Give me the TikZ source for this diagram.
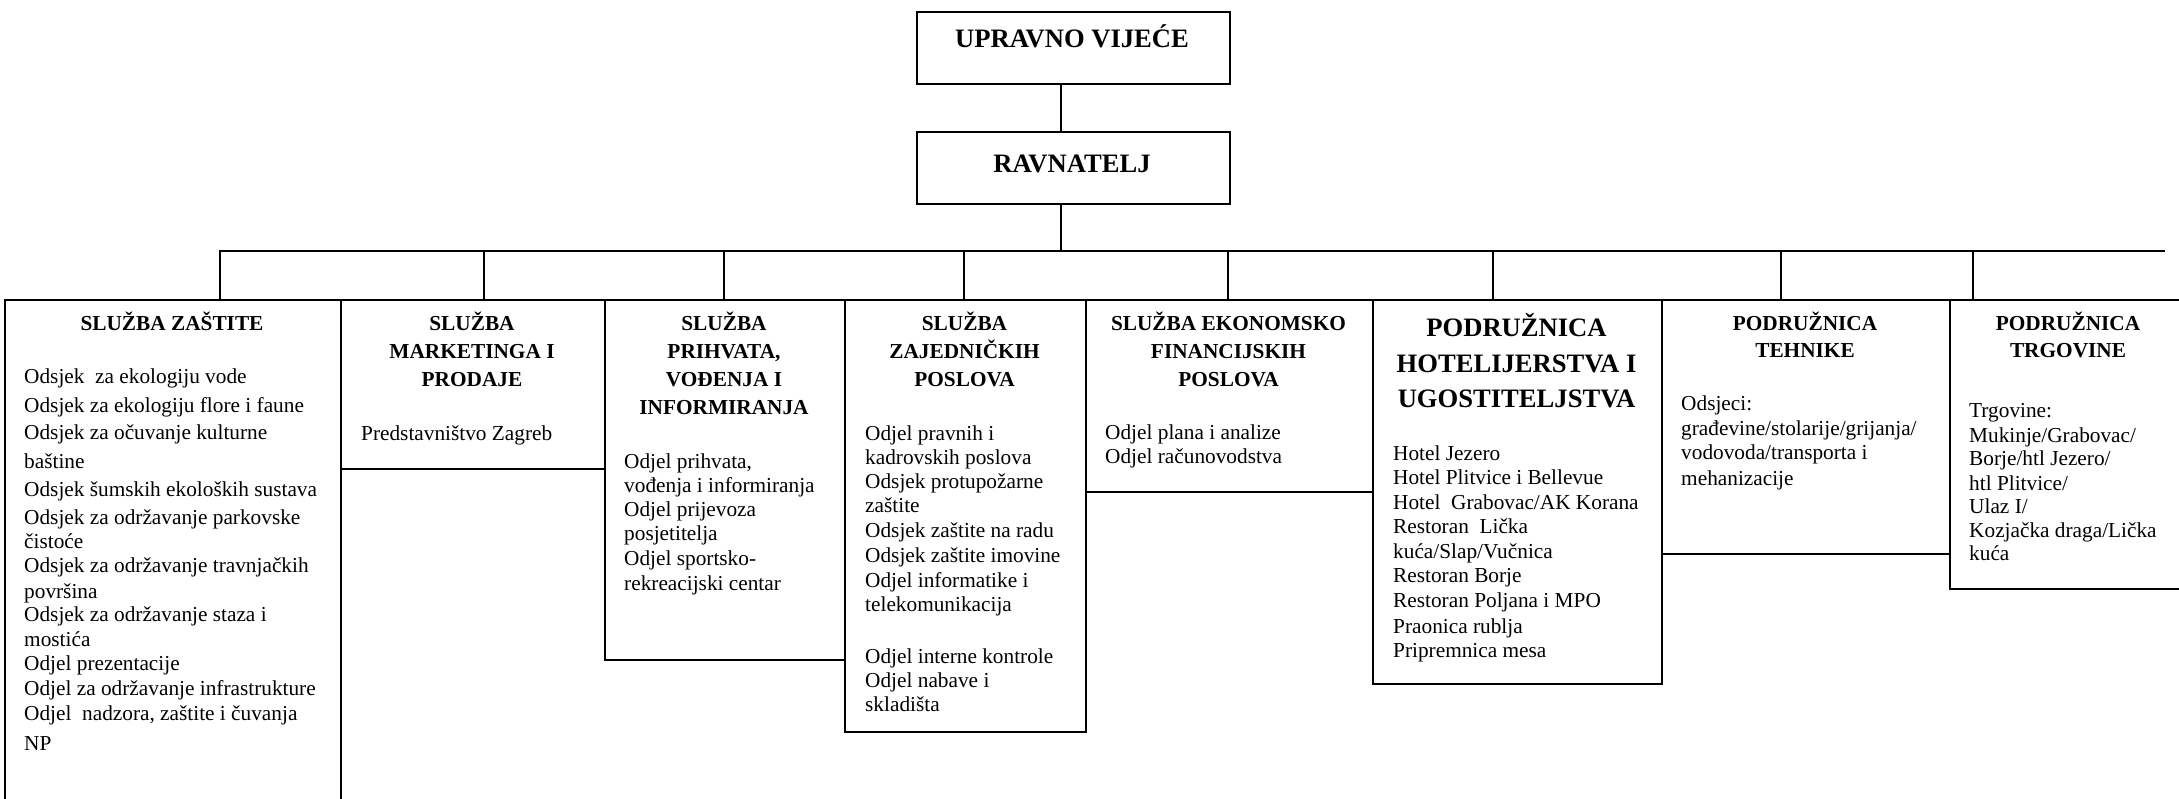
\documentclass[tikz,border=0pt]{standalone}
\usepackage{fontspec}
\setmainfont{Liberation Serif}
\begin{document}
\begin{tikzpicture}[x=1pt,y=-1pt,
  box/.style={draw, line width=1.8pt, inner sep=0pt, anchor=north west},
  conn/.style={line width=1.8pt},
  bodytext/.style={inner sep=0pt, anchor=base west, font=\fontsize{21.3pt}{24.5pt}\selectfont},
  headtext/.style={inner sep=0pt, anchor=base, font=\fontsize{21.3pt}{24.5pt}\selectfont\bfseries},
  bigtext/.style={inner sep=0pt, anchor=base, font=\fontsize{26.6pt}{30pt}\selectfont\bfseries}]
\useasboundingbox[fill=white] (0,0) rectangle (2179,798);

% top boxes
\node[box, minimum width=313pt, minimum height=72pt] (uv) at (916,11) {};
\node[box, minimum width=313pt, minimum height=72pt] (rv) at (916,131) {};
\node[bigtext] (uvt) at (1072,47) {UPRAVNO VIJEĆE};
\node[bigtext] (rvt) at (1072,172) {RAVNATELJ};

% column boxes
\node[box, minimum width=336pt, minimum height=560pt] (b1) at (4,299) {};
\node[box, minimum width=264pt, minimum height=169pt] (b2) at (340,299) {};
\node[box, minimum width=240pt, minimum height=360pt] (b3) at (604,299) {};
\node[box, minimum width=241pt, minimum height=432pt] (b4) at (844,299) {};
\node[box, minimum width=287pt, minimum height=192pt] (b5) at (1085,299) {};
\node[box, minimum width=289pt, minimum height=384pt] (b6) at (1372,299) {};
\node[box, minimum width=288pt, minimum height=254pt] (b7) at (1661,299) {};
\node[box, minimum width=280pt, minimum height=289pt] (b8) at (1949,299) {};

% connectors
\coordinate (stem) at (1061,251);
\coordinate (busL) at (220,251);
\coordinate (busR) at (2165,251);
\coordinate (d2) at (484,251);
\coordinate (d3) at (724,251);
\coordinate (d4) at (964,251);
\coordinate (d5) at (1228,251);
\coordinate (d6) at (1493,251);
\coordinate (d7) at (1781,251);
\coordinate (d8) at (1973,251);
\draw[conn] (stem |- uv.south) -- (stem |- rv.north);
\draw[conn] (stem |- rv.south) -- (stem);
\draw[conn] (busL |- b1.north) -- (busL) -- (busR);
\draw[conn] (d2) -- (d2 |- b2.north);
\draw[conn] (d3) -- (d3 |- b3.north);
\draw[conn] (d4) -- (d4 |- b4.north);
\draw[conn] (d5) -- (d5 |- b5.north);
\draw[conn] (d6) -- (d6 |- b6.north);
\draw[conn] (d7) -- (d7 |- b7.north);
\draw[conn] (d8) -- (d8 |- b8.north);

% headings
\node[headtext] (h1a) at (172,330) {SLUŽBA ZAŠTITE};
\foreach \yy/\txt [count=\i] in {330/SLUŽBA, 358/MARKETINGA I, 386/PRODAJE}
  \node[headtext, name=h2\i] at (472,\yy) {\txt};
\foreach \yy/\txt [count=\i] in {330/SLUŽBA, 358/{PRIHVATA,}, 386/VOĐENJA I, 414/INFORMIRANJA}
  \node[headtext, name=h3\i] at (724,\yy) {\txt};
\foreach \yy/\txt [count=\i] in {330/SLUŽBA, 358/ZAJEDNIČKIH, 386/POSLOVA}
  \node[headtext, name=h4\i] at (964.5,\yy) {\txt};
\foreach \yy/\txt [count=\i] in {330/SLUŽBA EKONOMSKO, 358/FINANCIJSKIH, 386/POSLOVA}
  \node[headtext, name=h5\i] at (1228.5,\yy) {\txt};
\foreach \yy/\txt [count=\i] in {336/PODRUŽNICA, 372/HOTELIJERSTVA I, 407/UGOSTITELJSTVA}
  \node[bigtext, name=h6\i] at (1516.5,\yy) {\txt};
\foreach \yy/\txt [count=\i] in {330/PODRUŽNICA, 357/TEHNIKE}
  \node[headtext, name=h7\i] at (1805,\yy) {\txt};
\foreach \yy/\txt [count=\i] in {330/PODRUŽNICA, 357/TRGOVINE}
  \node[headtext, name=h8\i] at (2068,\yy) {\txt};

% body texts
\foreach \yy/\txt [count=\i] in {
  383/{Odsjek\ \ za ekologiju vode},
  412/{Odsjek za ekologiju flore i faune},
  439/{Odsjek za očuvanje kulturne},
  468/{baštine},
  496/{Odsjek šumskih ekoloških sustava},
  524/{Odsjek za održavanje parkovske},
  548/{čistoće},
  572/{Odsjek za održavanje travnjačkih},
  598/{površina},
  621/{Odsjek za održavanje staza i},
  646/{mostića},
  670/{Odjel prezentacije},
  695/{Odjel za održavanje infrastrukture},
  720/{Odjel\ \ nadzora, zaštite i čuvanja},
  750/{NP}}
  \node[bodytext, name=t1\i] at (24,\yy) {\txt};
\node[bodytext] (t21) at (361,440) {Predstavništvo Zagreb};
\foreach \yy/\txt [count=\i] in {
  468/{Odjel prihvata,},
  492/{vođenja i informiranja},
  516/{Odjel prijevoza},
  540/{posjetitelja},
  565/{Odjel sportsko-},
  590/{rekreacijski centar}}
  \node[bodytext, name=t3\i] at (624,\yy) {\txt};
\foreach \yy/\txt [count=\i] in {
  440/{Odjel pravnih i},
  464/{kadrovskih poslova},
  488/{Odsjek protupožarne},
  512/{zaštite},
  537/{Odsjek zaštite na radu},
  562/{Odsjek zaštite imovine},
  587/{Odjel informatike i},
  611/{telekomunikacija},
  663/{Odjel interne kontrole},
  687/{Odjel nabave i},
  711/{skladišta}}
  \node[bodytext, name=t4\i] at (865,\yy) {\txt};
\foreach \yy/\txt [count=\i] in {
  439/{Odjel plana i analize},
  463/{Odjel računovodstva}}
  \node[bodytext, name=t5\i] at (1105,\yy) {\txt};
\foreach \yy/\txt [count=\i] in {
  460/{Hotel Jezero},
  484/{Hotel Plitvice i Bellevue},
  509/{Hotel\ \ Grabovac/AK Korana},
  533/{Restoran\ \ Lička},
  558/{kuća/Slap/Vučnica},
  582/{Restoran Borje},
  607/{Restoran Poljana i MPO},
  633/{Praonica rublja},
  657/{Pripremnica mesa}}
  \node[bodytext, name=t6\i] at (1393,\yy) {\txt};
\foreach \yy/\txt [count=\i] in {
  410/{Odsjeci:},
  435/{građevine/stolarije/grijanja/},
  459/{vodovoda/transporta i},
  485/{mehanizacije}}
  \node[bodytext, name=t7\i] at (1681,\yy) {\txt};
\foreach \yy/\txt [count=\i] in {
  417/{Trgovine:},
  442/{Mukinje/Grabovac/},
  465/{Borje/htl Jezero/},
  490/{htl Plitvice/},
  513/{Ulaz I/},
  537/{Kozjačka draga/Lička},
  560/{kuća}}
  \node[bodytext, name=t8\i] at (1969,\yy) {\txt};
\end{tikzpicture}
\end{document}
